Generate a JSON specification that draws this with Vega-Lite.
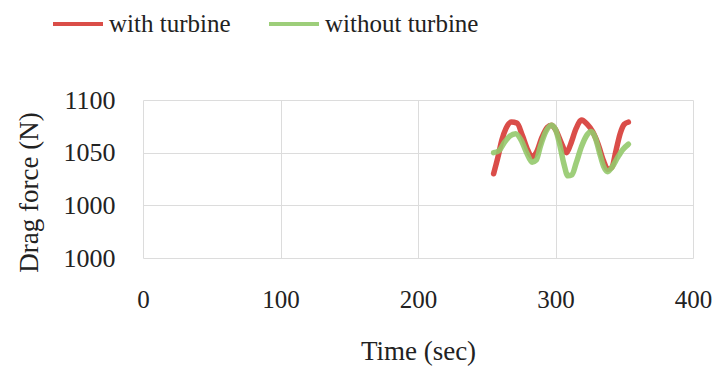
{
  "$schema": "https://vega.github.io/schema/vega-lite/v6.json",
  "width": 550,
  "height": 158,
  "autosize": "none",
  "padding": {"left": 143, "top": 100, "right": 33, "bottom": 122},
  "background": "white",
  "config": {
    "view": {"stroke": null},
    "font": "Liberation Serif, Times New Roman, serif",
    "axis": {"labelFont": "Liberation Serif, Times New Roman, serif", "titleFont": "Liberation Serif, Times New Roman, serif"},
    "legend": {"labelFont": "Liberation Serif, Times New Roman, serif"}
  },
  "data": {
    "values": [
      {"t": 255, "v": 1030, "s": "with turbine"},
      {"t": 258, "v": 1045, "s": "with turbine"},
      {"t": 261, "v": 1062, "s": "with turbine"},
      {"t": 264, "v": 1073, "s": "with turbine"},
      {"t": 268, "v": 1079, "s": "with turbine"},
      {"t": 272, "v": 1078, "s": "with turbine"},
      {"t": 276, "v": 1066, "s": "with turbine"},
      {"t": 280, "v": 1052, "s": "with turbine"},
      {"t": 283, "v": 1046, "s": "with turbine"},
      {"t": 286, "v": 1050, "s": "with turbine"},
      {"t": 290, "v": 1064, "s": "with turbine"},
      {"t": 294, "v": 1074, "s": "with turbine"},
      {"t": 297, "v": 1076, "s": "with turbine"},
      {"t": 300, "v": 1072, "s": "with turbine"},
      {"t": 304, "v": 1060, "s": "with turbine"},
      {"t": 308, "v": 1050, "s": "with turbine"},
      {"t": 311, "v": 1058, "s": "with turbine"},
      {"t": 315, "v": 1073, "s": "with turbine"},
      {"t": 319, "v": 1081, "s": "with turbine"},
      {"t": 323, "v": 1077, "s": "with turbine"},
      {"t": 327, "v": 1070, "s": "with turbine"},
      {"t": 331, "v": 1058, "s": "with turbine"},
      {"t": 335, "v": 1042, "s": "with turbine"},
      {"t": 338, "v": 1034, "s": "with turbine"},
      {"t": 341, "v": 1036, "s": "with turbine"},
      {"t": 344, "v": 1052, "s": "with turbine"},
      {"t": 347, "v": 1068, "s": "with turbine"},
      {"t": 350, "v": 1077, "s": "with turbine"},
      {"t": 353, "v": 1079, "s": "with turbine"},
      {"t": 255, "v": 1050, "s": "without turbine"},
      {"t": 259, "v": 1052, "s": "without turbine"},
      {"t": 263, "v": 1060, "s": "without turbine"},
      {"t": 267, "v": 1066, "s": "without turbine"},
      {"t": 271, "v": 1068, "s": "without turbine"},
      {"t": 275, "v": 1062, "s": "without turbine"},
      {"t": 279, "v": 1050, "s": "without turbine"},
      {"t": 283, "v": 1041, "s": "without turbine"},
      {"t": 286, "v": 1043, "s": "without turbine"},
      {"t": 289, "v": 1056, "s": "without turbine"},
      {"t": 293, "v": 1070, "s": "without turbine"},
      {"t": 297, "v": 1076, "s": "without turbine"},
      {"t": 300, "v": 1072, "s": "without turbine"},
      {"t": 303, "v": 1058, "s": "without turbine"},
      {"t": 306, "v": 1040, "s": "without turbine"},
      {"t": 309, "v": 1028, "s": "without turbine"},
      {"t": 312, "v": 1029, "s": "without turbine"},
      {"t": 315, "v": 1040, "s": "without turbine"},
      {"t": 319, "v": 1056, "s": "without turbine"},
      {"t": 323, "v": 1067, "s": "without turbine"},
      {"t": 326, "v": 1070, "s": "without turbine"},
      {"t": 329, "v": 1064, "s": "without turbine"},
      {"t": 332, "v": 1050, "s": "without turbine"},
      {"t": 335, "v": 1037, "s": "without turbine"},
      {"t": 338, "v": 1032, "s": "without turbine"},
      {"t": 341, "v": 1036, "s": "without turbine"},
      {"t": 345, "v": 1045, "s": "without turbine"},
      {"t": 349, "v": 1053, "s": "without turbine"},
      {"t": 353, "v": 1058, "s": "without turbine"}
    ]
  },
  "mark": {"type": "line", "interpolate": "monotone", "strokeWidth": 5.5, "opacity": 0.9, "strokeCap": "round"},
  "encoding": {
    "x": {
      "field": "t",
      "type": "quantitative",
      "scale": {"domain": [0, 400], "nice": false},
      "axis": {
        "title": "Time (sec)",
        "values": [0, 100, 200, 300, 400],
        "format": "d",
        "domain": false,
        "ticks": false,
        "grid": true,
        "gridColor": "#dcdcdc",
        "gridWidth": 1,
        "labelFontSize": 25,
        "labelColor": "#222",
        "labelPadding": 29,
        "labelFlush": false,
        "titleFontSize": 27,
        "titleFontWeight": "normal",
        "titleColor": "#222",
        "titlePadding": 26
      }
    },
    "y": {
      "field": "v",
      "type": "quantitative",
      "scale": {"domain": [950, 1100], "nice": false, "zero": false},
      "axis": {
        "title": "Drag force (N)",
        "values": [950, 1000, 1050, 1100],
        "format": "d",
        "labelExpr": "datum.value == 950 ? '1000' : datum.label",
        "domain": false,
        "ticks": false,
        "grid": true,
        "gridColor": "#dcdcdc",
        "gridWidth": 1,
        "labelFontSize": 26,
        "labelColor": "#222",
        "labelPadding": 28,
        "titleFontSize": 27,
        "titleFontWeight": "normal",
        "titleColor": "#222",
        "titlePadding": 20,
        "titleY": 92
      }
    },
    "color": {
      "field": "s",
      "type": "nominal",
      "scale": {"domain": ["with turbine", "without turbine"], "range": ["#d63a35", "#93c96c"]},
      "legend": {
        "title": null,
        "orient": "none",
        "direction": "horizontal",
        "legendX": -92,
        "legendY": -103,
        "symbolType": "stroke",
        "symbolSize": 2500,
        "symbolStrokeWidth": 4,
        "labelFontSize": 25,
        "labelColor": "#222",
        "labelOffset": 4,
        "columnPadding": 30,
        "labelLimit": 300
      }
    }
  }
}
